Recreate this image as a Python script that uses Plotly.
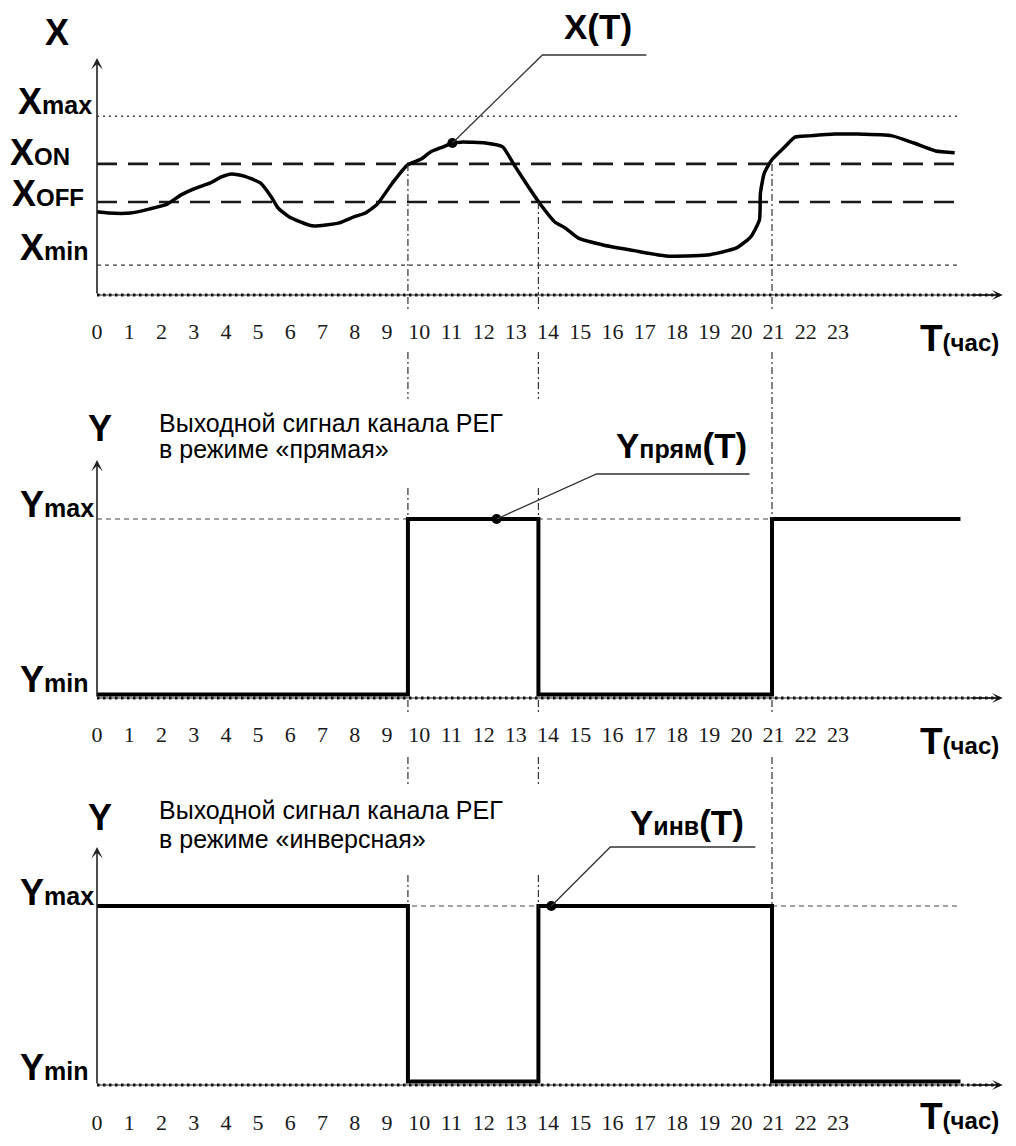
import numpy as np
import plotly.graph_objects as go

# ---------------- data ----------------
HOURS = list(range(24))
HOUR_LABELS = [str(h) for h in HOURS]

# measured signal X(T): time in hours, value in arbitrary units (0 = axis)
T_CURVE = [0, 0.34, 1.04, 1.64, 2.18, 2.61, 3.07, 3.52, 3.86, 4.18,
           4.57, 5.07, 5.41, 5.62, 5.97, 6.68, 7.52, 7.97, 8.33, 8.70,
           9.17, 9.63, 10.06, 10.35, 10.74, 11.03, 11.31, 12.06, 12.59, 12.91,
           13.29, 13.71, 14.21, 14.53, 14.94, 15.71, 16.71, 17.66, 18.94, 19.85,
           20.29, 20.56, 20.59, 20.71, 20.94, 21.31, 21.66, 22.09, 22.91, 23.59,
           24.68, 25.35, 26.03, 26.62]
X_CURVE = [2.79, 2.75, 2.75, 2.89, 3.05, 3.36, 3.59, 3.76, 3.96, 4.06,
           3.99, 3.76, 3.29, 2.92, 2.62, 2.32, 2.42, 2.62, 2.75, 3.05,
           3.76, 4.36, 4.56, 4.80, 4.97, 5.10, 5.13, 5.10, 4.97, 4.43,
           3.79, 3.12, 2.45, 2.25, 1.91, 1.68, 1.48, 1.31, 1.34, 1.58,
           1.95, 2.52, 3.42, 4.09, 4.53, 4.93, 5.30, 5.34, 5.40, 5.40,
           5.34, 5.10, 4.83, 4.77]

X_LEVELS = {"max": 6.0, "on": 4.40, "off": 3.12, "min": 1.0}
Y_LEVELS = {"max": 1.0, "min": 0.02}

T_END = 26.8
T_SWITCH = [9.65, 13.7, 20.95]
SWITCH_LEVEL = ["on", "off", "on"]
DIRECT_STATES = ["min", "max", "min", "max"]
INVERSE_STATES = ["max", "min", "max", "min"]

T_MARK_X = 11.03
T_MARK_DIRECT = 12.4
T_MARK_INVERSE = 14.1

# ---------------- layout helpers ----------------
# the page body has an 8px margin: the figure is sized to fit inside it
OFF = 8
W, H = 1016 - 2 * OFF, 1146 - 2 * OFF


def yp(py):
    return 1 - (py - OFF) / H


def xp(px):
    return (px - OFF) / W


PX_PER_H = 32.22          # horizontal scale (page px per hour)
X0_PX = 97                # page px of T = 0 (vertical axis)
T_LEFT = -0.3
X_RIGHT_PX = 1007
T_RIGHT = (X_RIGHT_PX - X0_PX) / PX_PER_H
X_DOM = [xp(X0_PX + T_LEFT * PX_PER_H), xp(X_RIGHT_PX)]
T_RANGE = [T_LEFT, T_RIGHT]
T_ARROW = T_RIGHT - 0.15

PANELS = [
    dict(ax="", zero=295, scale=29.8, yr=[-0.3, 8.4], tip=7.95, t_y=338.5, standoff=12),
    dict(ax="2", zero=698, scale=179, yr=[-0.06, 1.36], tip=1.33, t_y=741.5, standoff=10),
    dict(ax="3", zero=1085, scale=179, yr=[-0.06, 1.36], tip=1.33, t_y=1116, standoff=11),
]

SANS = "Liberation Sans, Arial, sans-serif"
SERIF = "Liberation Serif, Times New Roman, serif"

fig = go.Figure()
shapes = []
annotations = []

layout = dict(
    width=W, height=H,
    margin=dict(l=0, r=0, t=0, b=0),
    paper_bgcolor="white", plot_bgcolor="rgba(0,0,0,0)",
    showlegend=False,
)

for p in PANELS:
    a = p["ax"]
    bottom_py = p["zero"] - p["yr"][0] * p["scale"]
    top_py = p["zero"] - p["yr"][1] * p["scale"]
    layout["xaxis" + a] = dict(
        domain=X_DOM, range=T_RANGE, anchor="y" + a,
        showgrid=False, zeroline=False, showline=False, ticks="",
        tickmode="array", tickvals=HOURS, ticktext=HOUR_LABELS,
        tickfont=dict(family=SERIF, size=22, color="#1a1a1a"),
        ticklabelstandoff=p["standoff"], fixedrange=True,
    )
    layout["yaxis" + a] = dict(
        domain=[yp(bottom_py), yp(top_py)], range=p["yr"],
        anchor="x" + a, visible=False, fixedrange=True,
    )
    xr, yr_ = "x" + a, "y" + a
    # dotted time axis
    shapes.append(dict(type="line", xref=xr, yref=yr_, x0=0, x1=T_ARROW, y0=0, y1=0,
                       line=dict(color="#222", width=1.1)))
    shapes.append(dict(type="line", xref=xr, yref=yr_, x0=0, x1=T_ARROW, y0=0, y1=0,
                       line=dict(color="#111", width=3.2, dash="2.5px,3.5px")))
    annotations.append(dict(x=T_ARROW, y=0, xref=xr, yref=yr_, ax=T_ARROW - 1, ay=0,
                            axref=xr, ayref=yr_, showarrow=True, arrowhead=3,
                            arrowsize=1.2, arrowwidth=1.4, arrowcolor="#111", text=""))
    # vertical value axis
    annotations.append(dict(x=0, y=p["tip"], xref=xr, yref=yr_, ax=0, ay=0,
                            axref=xr, ayref=yr_, showarrow=True, arrowhead=3,
                            arrowsize=1.2, arrowwidth=1.6, arrowcolor="#222", text=""))
    # T(час)
    annotations.append(dict(x=xp(918), y=yp(p["t_y"]), xref="paper", yref="paper",
                            xanchor="left", yanchor="middle", showarrow=False,
                            text="<b>T<span style='font-size:24px'>(час)</span></b>",
                            font=dict(family=SANS, size=37, color="#000")))

# ---------------- panel 1: X(T) ----------------
lvl_style = {
    "max": dict(color="#444", width=1.5, dash="2px,4px"),
    "on": dict(color="#1a1a1a", width=2.6, dash="20px,11px"),
    "off": dict(color="#1a1a1a", width=2.6, dash="20px,11px"),
    "min": dict(color="#333", width=1.3, dash="4px,4px"),
}
for k, v in X_LEVELS.items():
    shapes.append(dict(type="line", xref="x", yref="y", x0=0, x1=T_END, y0=v, y1=v,
                       line=lvl_style[k], layer="below"))

fig.add_trace(go.Scatter(x=T_CURVE, y=X_CURVE, mode="lines", xaxis="x", yaxis="y",
                         line=dict(color="black", width=3.5, shape="spline", smoothing=0.5),
                         hoverinfo="skip"))
mark_x_val = float(np.interp(T_MARK_X, T_CURVE, X_CURVE))
fig.add_trace(go.Scatter(x=[T_MARK_X], y=[mark_x_val], mode="markers", xaxis="x", yaxis="y",
                         marker=dict(color="black", size=10), hoverinfo="skip"))

# ---------------- panels 2, 3: output signals ----------------
def step_series(states):
    t = [0] + T_SWITCH + [T_END]
    y = [Y_LEVELS[s] for s in states] + [Y_LEVELS[states[-1]]]
    return t, y


for a, states, tmark in (("2", DIRECT_STATES, T_MARK_DIRECT),
                         ("3", INVERSE_STATES, T_MARK_INVERSE)):
    shapes.append(dict(type="line", xref="x" + a, yref="y" + a, x0=0, x1=T_END,
                       y0=Y_LEVELS["max"], y1=Y_LEVELS["max"],
                       line=dict(color="#444", width=1.2, dash="5px,4px"), layer="below"))
    t, y = step_series(states)
    fig.add_trace(go.Scatter(x=t, y=y, mode="lines", xaxis="x" + a, yaxis="y" + a,
                             line=dict(color="black", width=4, shape="hv"), hoverinfo="skip"))
    fig.add_trace(go.Scatter(x=[tmark], y=[Y_LEVELS["max"]], mode="markers",
                             xaxis="x" + a, yaxis="y" + a,
                             marker=dict(color="black", size=10), hoverinfo="skip"))

# ---------------- switching guide lines (dash-dot) ----------------
DASHDOT = dict(color="#333", width=1.2, dash="7px,3px,2px,3px")
for i, (ts, lv) in enumerate(zip(T_SWITCH, SWITCH_LEVEL)):
    shapes.append(dict(type="line", xref="x", yref="y", x0=ts, x1=ts,
                       y0=X_LEVELS[lv], y1=0, line=DASHDOT))
    if i < 2:
        segs = [(297, 312), (352, 399), (488, 519), (700, 713), (757, 785), (875, 906)]
    else:
        segs = [(297, 312), (352, 519), (700, 713), (757, 906)]
    for a0, a1 in segs:
        shapes.append(dict(type="line", xref="x", yref="paper", x0=ts, x1=ts,
                           y0=yp(a0), y1=yp(a1), line=DASHDOT))

# ---------------- leaders & series labels ----------------
LEAD = dict(color="#333", width=1.3)
leaders = [
    ("x", "y", T_MARK_X, mark_x_val, "M0,0 L90,88 L194,88", 146, 117,
     "<b>X(T)</b>"),
    ("x2", "y2", T_MARK_DIRECT, Y_LEVELS["max"], "M0,0 L100,45 L253,45", 185, 73,
     "<b>Y<span style='font-size:25px'>прям</span>(T)</b>"),
    ("x3", "y3", T_MARK_INVERSE, Y_LEVELS["max"], "M0,0 L59,59 L204,59", 136, 84,
     "<b>Y<span style='font-size:25px'>инв</span>(T)</b>"),
]
for xr, yr_, tx, ty, path, dx, dy, txt in leaders:
    shapes.append(dict(type="path", xref=xr, yref=yr_, xsizemode="pixel", ysizemode="pixel",
                       xanchor=tx, yanchor=ty, path=path, line=LEAD))
    annotations.append(dict(x=tx, y=ty, xref=xr, yref=yr_, xshift=dx, yshift=dy,
                            showarrow=False, text=txt, xanchor="center", yanchor="middle",
                            font=dict(family=SANS, size=35, color="#000")))

# ---------------- static texts ----------------
def label(px, py, text, size=36, anchor="left", family=SANS):
    annotations.append(dict(x=xp(px), y=yp(py), xref="paper", yref="paper",
                            xanchor=anchor, yanchor="middle", showarrow=False,
                            text=text, font=dict(family=family, size=size, color="#000")))


def sub(big, small, size=25):
    return f"<b>{big}<span style='font-size:{size}px'>{small}</span></b>"


label(57, 32.5, "<b>X</b>", anchor="center")
label(100, 428.5, "<b>Y</b>", anchor="center")
label(100, 817.5, "<b>Y</b>", anchor="center")

label(16, 101.5, sub("X", "max"))
label(8, 153, sub("X", "ON", 24))
label(10, 193, sub("X", "OFF", 24))
label(18, 247.5, sub("X", "min"))

label(18, 504.5, sub("Y", "max"))
label(18, 679.5, sub("Y", "min"))
label(18, 892.5, sub("Y", "max"))
label(18, 1067.5, sub("Y", "min"))

label(157, 422.7, "Выходной сигнал канала РЕГ", size=25)
label(157, 448.7, "в режиме «прямая»", size=25)
label(157, 809.7, "Выходной сигнал канала РЕГ", size=25)
label(157, 838.7, "в режиме «инверсная»", size=25)

layout["shapes"] = shapes
layout["annotations"] = annotations
fig.update_layout(**layout)

fig.write_html("out.html")
